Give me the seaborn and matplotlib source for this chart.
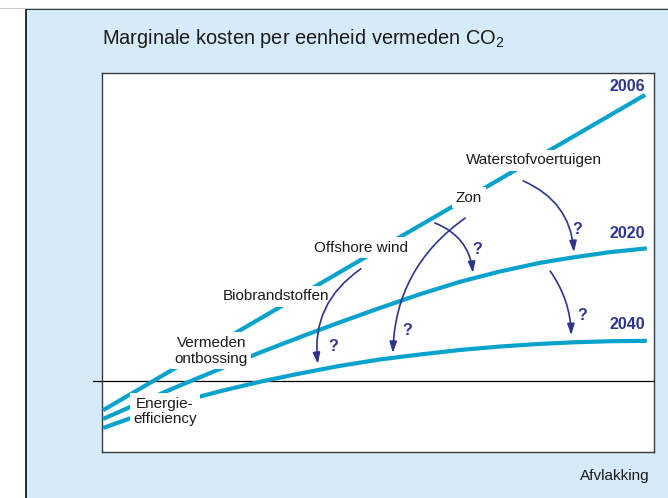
import matplotlib
matplotlib.use("Agg")
import matplotlib.pyplot as plt
import matplotlib.patches as mpatches
import matplotlib.lines as mlines
import seaborn as sns
import pandas as pd

# ---------------- data (x = afvlakking 0-100, y = marginale kosten) ----------------
x_2006 = [0.2, 54.0, 98.4]
y_2006 = [-7.7, 38.0, 75.5]

x_2020 = [0.2, 6.9, 14.1, 21.4, 28.6, 35.9, 43.1, 50.4, 57.6, 64.9, 72.1, 79.4, 85.3, 92.0, 98.7]
y_2020 = [-10.0, -5.7, -1.2, 3.2, 7.5, 11.6, 15.5, 19.3, 22.9, 26.2, 28.9, 31.2, 32.6, 34.0, 35.0]

x_2040 = [0.2, 6.9, 14.1, 21.4, 28.6, 35.9, 43.1, 50.4, 57.6, 64.9, 72.1, 79.4, 85.3, 92.0, 98.7]
y_2040 = [-12.4, -8.9, -5.5, -2.7, -0.2, 2.0, 4.0, 5.7, 7.0, 8.2, 9.1, 9.8, 10.2, 10.5, 10.6]

option_labels = ["Energie-\nefficiency", "Vermeden\nontbossing", "Biobrandstoffen",
                 "Offshore wind", "Zon", "Waterstofvoertuigen"]
option_x = [11.4, 19.8, 31.5, 47.0, 66.5, 78.2]
option_y = [-8.0, 8.0, 22.4, 35.1, 48.3, 58.3]

year_labels = ["2006", "2020", "2040"]
year_x = [98.4, 98.4, 98.4]
year_y = [77.8, 39.0, 15.0]

q_x = [86.0, 67.9, 87.0, 41.9, 55.3]
q_y = [40.1, 34.8, 17.2, 9.0, 13.2]

arrow_start_x = [46.9, 65.8, 60.3, 76.3, 81.2]
arrow_start_y = [29.6, 43.0, 41.7, 52.8, 29.0]
arrow_end_x = [39.1, 52.7, 67.2, 85.5, 85.0]
arrow_end_y = [4.5, 7.4, 28.5, 34.0, 12.1]
arrow_rad = [0.3, 0.25, -0.3, -0.3, -0.15]

# ---------------- styling ----------------
sns.set_theme(style="white")
plt.rcParams["font.family"] = ["Liberation Sans", "DejaVu Sans"]
plt.rcParams["mathtext.fontset"] = "custom"
plt.rcParams["mathtext.rm"] = "Liberation Sans"

CYAN = "#08a2cd"
NAVY = "#2e338c"
PANEL = "#d6ebfa"

fig = plt.figure(figsize=(6.68, 4.98), dpi=100)
W, H = 668, 498

# background panel
fig.add_artist(mlines.Line2D([0, 1], [1 - 8 / H, 1 - 8 / H], transform=fig.transFigure,
                             color="#cccccc", lw=0.8))
panel = mpatches.Rectangle((26 / W, -0.05), 1.0, 1.05 - 9 / H, transform=fig.transFigure,
                           facecolor=PANEL, edgecolor="#1a1a1a", lw=1.3, zorder=0)
fig.add_artist(panel)

ax = fig.add_axes([102 / W, (H - 452) / H, (654 - 102) / W, (452 - 73) / H])
ax.set_facecolor("white")
for s in ax.spines.values():
    s.set_color("#3a3a3a")
    s.set_linewidth(1.0)
ax.set_xlim(0, 100)
ax.set_ylim(-18.73, 81.27)

# zero line extending slightly left of the axes
ax.plot([-1.7, 100], [0, 0], color="black", lw=0.9, clip_on=False, zorder=2)

for xs, ys in [(x_2006, y_2006), (x_2020, y_2020), (x_2040, y_2040)]:
    df = pd.DataFrame({"x": xs, "y": ys})
    sns.lineplot(data=df, x="x", y="y", ax=ax, color=CYAN, lw=3.0, sort=False,
                 estimator=None, zorder=3, solid_capstyle="butt", solid_joinstyle="round")
ax.set_xticks([])
ax.set_yticks([])
ax.set_xlabel("")
ax.set_ylabel("")

for lab, lx, ly in zip(option_labels, option_x, option_y):
    ax.text(lx, ly, lab, ha="center", va="center", fontsize=11, color="#1a1a1a",
            linespacing=1.15, zorder=5,
            bbox=dict(facecolor="white", edgecolor="none", pad=2.5))

for lab, lx, ly in zip(year_labels, year_x, year_y):
    ax.text(lx, ly, lab, ha="right", va="center", fontsize=11.5, fontweight="bold",
            color=NAVY, zorder=5)

for qx, qy in zip(q_x, q_y):
    ax.text(qx, qy, "?", ha="center", va="center", fontsize=11.5, fontweight="bold",
            color=NAVY, zorder=5)

for sx, sy, ex, ey, r in zip(arrow_start_x, arrow_start_y, arrow_end_x, arrow_end_y, arrow_rad):
    ax.annotate("", xy=(ex, ey), xytext=(sx, sy),
                arrowprops=dict(arrowstyle="-|>,head_length=0.55,head_width=0.18",
                                color=NAVY, lw=1.2, shrinkA=0, shrinkB=0,
                                connectionstyle=f"arc3,rad={r}"),
                zorder=6)

fig.text(102 / W, 1 - 38.5 / H, r"Marginale kosten per eenheid vermeden CO$\mathregular{_2}$",
         ha="left", va="center", fontsize=14.4, color="#1a1a1a")
fig.text(650 / W, 1 - 476 / H, "Afvlakking", ha="right", va="center", fontsize=11,
         color="#1a1a1a")

fig.savefig("out.png", dpi=100)
